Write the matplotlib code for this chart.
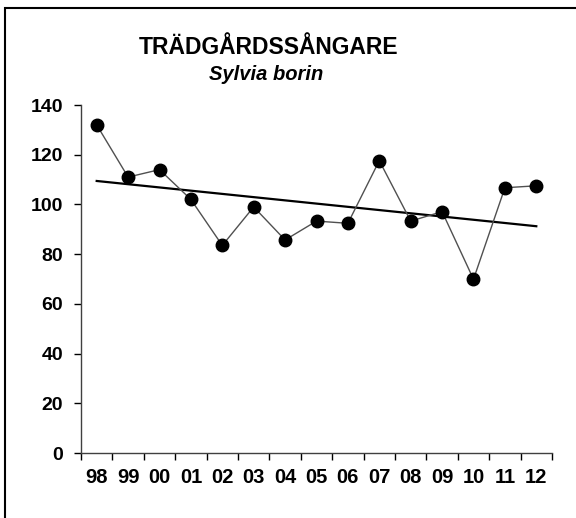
import numpy as np
import matplotlib
matplotlib.use("Agg")
import matplotlib.pyplot as plt
from matplotlib.patches import Rectangle

# Trädgårdssångare index per year
years = ["98", "99", "00", "01", "02", "03", "04", "05", "06", "07",
         "08", "09", "10", "11", "12"]
index = [132, 111, 114, 102, 83.5, 99, 85.7, 93.3, 92.4, 117.6,
         93.3, 97.1, 69.9, 106.7, 107.5]
yticks = [0, 20, 40, 60, 80, 100, 120, 140]

plt.rcParams["font.family"] = ["Liberation Sans", "DejaVu Sans"]

x = np.arange(len(years))
slope, icpt = np.polyfit(x, index, 1)

fig = plt.figure(figsize=(5.76, 5.18), dpi=100)
ax = fig.add_axes([81 / 576, 1 - 453 / 518, (552 - 81) / 576, (453 - 105) / 518])

ax.plot(x, index, color="#505050", lw=1.0, marker="o", ms=9,
        mfc="black", mec="black", zorder=3)
ax.plot(x, slope * x + icpt, color="black", lw=1.6, zorder=2)

ax.set_xlim(-0.5, len(years) - 0.5)
ax.set_ylim(0, 140)
ax.set_yticks(yticks)
ax.set_xticks(x)
ax.set_xticklabels(years)
ax.set_xticks(np.arange(-0.5, len(years)), minor=True)
ax.tick_params(axis="x", which="major", length=0, pad=11)
ax.tick_params(axis="x", which="minor", length=5, width=1, direction="out")
ax.tick_params(axis="y", length=5, width=1, direction="out", pad=8)
for lab in ax.get_xticklabels():
    lab.set_fontsize(14.5)
    lab.set_fontweight("bold")
for lab in ax.get_yticklabels():
    lab.set_fontsize(14)
    lab.set_fontweight("bold")
for s in ("top", "right"):
    ax.spines[s].set_visible(False)
for s in ("left", "bottom"):
    ax.spines[s].set_color("#404040")
    ax.spines[s].set_linewidth(1)

fig.text(0.467, 1 - 54 / 518, "TRÄDGÅRDSSÅNGARE", ha="center", va="baseline",
         fontsize=16.5, fontweight="bold")
fig.text(0.462, 1 - 80 / 518, "Sylvia borin", ha="center", va="baseline",
         fontsize=14.5, fontweight="bold", fontstyle="italic")

# outer frame (only left and top edges fall inside the crop)
fig.patches.append(Rectangle((5 / 576, -0.1), 1.2, 1 - 8 / 518 + 0.1,
                             transform=fig.transFigure, fill=False,
                             edgecolor="black", lw=1.5))

fig.savefig("out.png", dpi=100)
